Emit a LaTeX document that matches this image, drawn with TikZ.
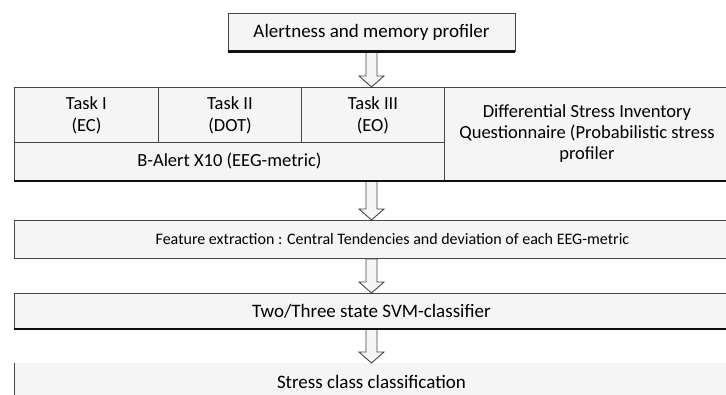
\documentclass[tikz,border=0pt]{standalone}
\usepackage{fontspec}
\setmainfont{Carlito}
\usetikzlibrary{calc}
\definecolor{boxfill}{RGB}{245,245,245}
\definecolor{boxline}{RGB}{70,70,70}
\definecolor{shadowdark}{RGB}{15,15,15}
\tikzset{
  box/.style={rectangle, draw=boxline, fill=boxfill, line width=0.9pt,
    inner sep=0pt, align=center, font=\fontsize{18.5}{22}\selectfont},
  cell/.style={box, anchor=north west},
  shadowline/.style={line width=2.4pt, color=shadowdark},
  blockarr/.style={draw=boxline, fill=boxfill, line width=0.9pt, line join=miter}
}
% hollow block arrow from #1 down to #2
\newcommand{\hollowarrow}[2]{%
  \draw[blockarr] let \p1=(#1), \p2=(#2) in
    (\x1-5.5pt,\y1) -- (\x1+5.5pt,\y1) -- (\x1+5.5pt,\y2+11pt)
    -- (\x1+12.5pt,\y2+11pt) -- (\x1,\y2) -- (\x1-12.5pt,\y2+11pt)
    -- (\x1-5.5pt,\y2+11pt) -- cycle;}

\begin{document}
\begin{tikzpicture}[x=1pt, y=-1pt]
  \clip (0,0) rectangle (726,394);
  \fill[white] (0,0) rectangle (726,394);

  % Profiler
  \node[box, minimum width=287pt, minimum height=38pt, font=\fontsize{19}{22}\selectfont] (alert) at (371.5,32) {Alertness and memory profiler};

  % Tasks and questionnaire
  \node[cell, minimum width=144pt, minimum height=55pt] (taskone) at (14,87) {Task I\\(EC)};
  \node[cell, minimum width=143pt, minimum height=55pt] (tasktwo) at (158,87) {Task II\\(DOT)};
  \node[cell, minimum width=143pt, minimum height=55pt] (taskthree) at (301,87) {Task III\\(EO)};
  \node[cell, minimum width=430pt, minimum height=38pt] (balert) at (14,142) {B-Alert X10 (EEG-metric)};
  \node[cell, minimum width=285pt, minimum height=93pt, font=\fontsize{18.5}{21}\selectfont] (dsiq) at (444,87)
    {Differential Stress Inventory\\Questionnaire (Probabilistic stress\\profiler};

  % Processing chain
  \node[cell, minimum width=756pt, minimum height=38pt, font=\fontsize{16}{19}\selectfont] (feat) at (14,220)
    {Feature extraction : Central Tendencies and deviation of each EEG-metric};
  \node[cell, minimum width=714pt, minimum height=35pt, font=\fontsize{19}{22}\selectfont] (svm) at (14,293) {Two/Three state SVM-classifier};
  \node[cell, draw=none, minimum width=714pt, minimum height=37pt, font=\fontsize{19}{22}\selectfont] (stress) at (14,363)
    {Stress class classification};
  \draw[boxline, line width=0.9pt] (stress.north west) -- (stress.south west);

  % Arrows
  \hollowarrow{alert.south}{alert.south |- taskone.north}
  \hollowarrow{alert.south |- balert.south}{alert.south |- feat.north}
  \hollowarrow{alert.south |- feat.south}{alert.south |- svm.north}
  \hollowarrow{alert.south |- svm.south}{alert.south |- stress.north}

  % Heavy bottom edges
  \draw[shadowline] (alert.south west) -- (alert.south east);
  \draw[shadowline] (balert.south west) -- (dsiq.south east);
  \draw[shadowline] (svm.south west) -- (svm.south east);
\end{tikzpicture}
\end{document}
